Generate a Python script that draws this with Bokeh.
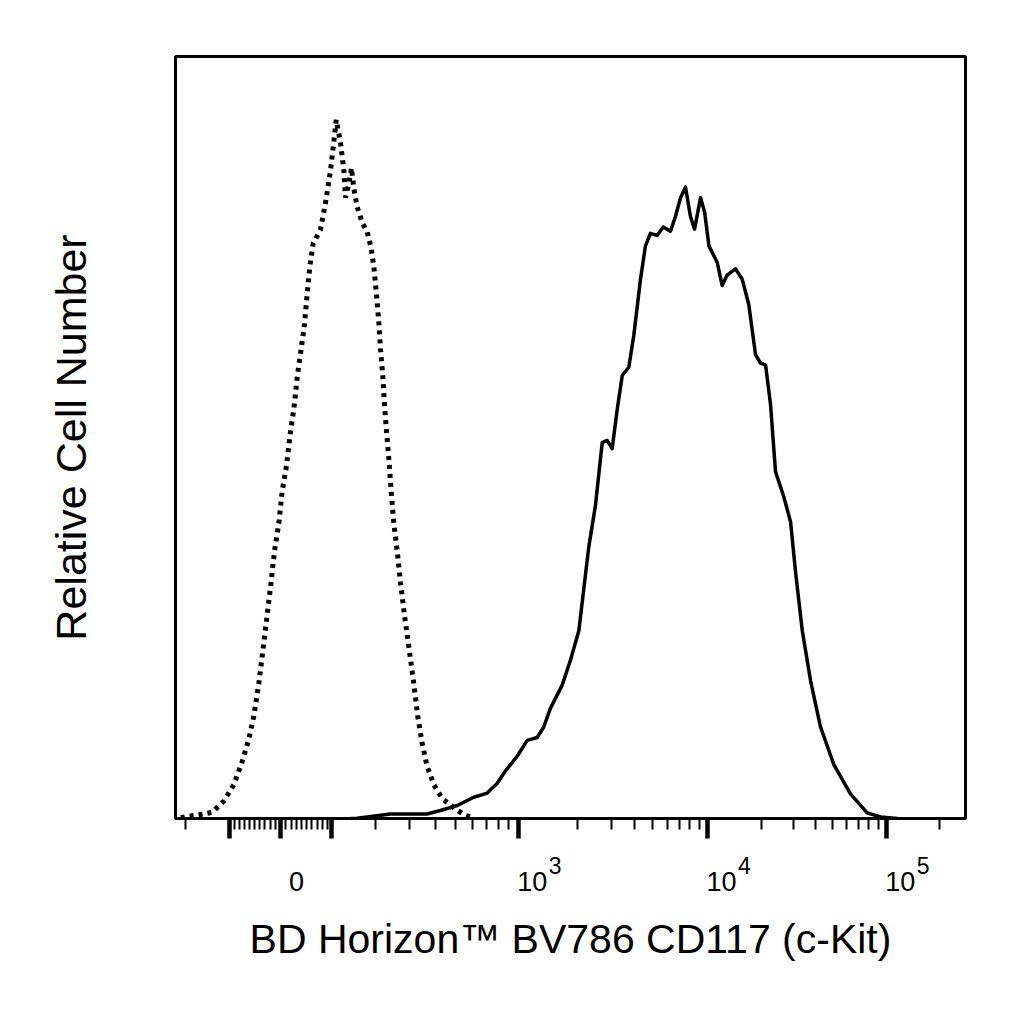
import math
from bokeh.plotting import figure
from bokeh.models import Range1d, FixedTicker, LinearAxis
from bokeh.embed import file_html
from bokeh.resources import INLINE

# ---------------- data (x in logicle display decades, y = relative count) -------------
isotype_x = [0.100, 0.136, 0.211, 0.277, 0.343, 0.399, 0.446, 0.484, 0.512, 0.540, 0.559,
             0.584, 0.606, 0.629, 0.653, 0.672, 0.696, 0.719, 0.738, 0.757, 0.779, 0.798,
             0.813, 0.828, 0.847, 0.888, 0.917, 0.945, 0.963, 0.977, 1.001, 1.020, 1.029,
             1.048, 1.063, 1.076, 1.095, 1.124, 1.152, 1.174, 1.189, 1.204, 1.217, 1.227,
             1.240, 1.249, 1.261, 1.274, 1.287, 1.302, 1.321, 1.340, 1.362, 1.387, 1.415,
             1.437, 1.462, 1.490, 1.528, 1.575, 1.641, 1.697, 1.753]
isotype_y = [0.10, 0.29, 0.57, 0.89, 2.51, 4.81, 8.09, 11.37, 14.64, 19.23, 23.16,
             28.40, 32.99, 38.23, 42.17, 46.76, 50.36, 55.27, 58.54, 63.14, 67.07, 70.67,
             74.93, 78.86, 82.14, 84.10, 88.04, 92.63, 96.56, 99.83, 96.56, 92.63, 88.69,
             90.66, 92.96, 90.00, 87.39, 85.09, 83.77, 81.49, 78.86, 74.93, 71.00, 67.07,
             63.14, 59.20, 55.27, 51.34, 46.76, 42.17, 38.23, 33.64, 29.06, 24.47, 19.23,
             14.64, 10.71, 7.43, 4.81, 2.86, 1.54, 0.56, 0.00]

stained_x = [1.060, 1.095, 1.283, 1.490, 1.565, 1.660, 1.753, 1.829, 1.885, 1.932, 1.998,
             2.055, 2.111, 2.148, 2.186, 2.252, 2.299, 2.346, 2.374, 2.402, 2.440, 2.478,
             2.506, 2.534, 2.563, 2.591, 2.628, 2.656, 2.694, 2.722, 2.750, 2.788, 2.822,
             2.863, 2.891, 2.920, 2.948, 2.976, 2.999, 3.033, 3.056, 3.080, 3.127, 3.155,
             3.183, 3.230, 3.268, 3.305, 3.343, 3.371, 3.400, 3.428, 3.456, 3.503, 3.541,
             3.569, 3.607, 3.654, 3.710, 3.785, 3.879, 3.973, 4.049, 4.143]
stained_y = [0.00, 0.04, 0.64, 0.64, 1.14, 1.86, 3.03, 3.63, 5.00, 6.80, 8.89,
             11.16, 11.57, 13.07, 15.77, 19.06, 22.64, 26.83, 32.80, 38.77, 44.76, 53.71,
             54.01, 52.83, 58.50, 63.29, 64.47, 69.00, 77.03, 81.81, 83.60, 83.30, 84.50,
             83.90, 86.00, 88.69, 90.19, 86.00, 84.20, 88.69, 86.60, 81.81, 79.43, 76.14,
             77.63, 78.53, 77.03, 73.44, 66.27, 65.07, 64.77, 59.10, 49.53, 45.94, 42.36,
             35.19, 26.83, 19.64, 13.07, 7.70, 3.51, 0.81, 0.21, 0.00]

major_tick_values = [-100, 0, 100, 1000, 10000, 100000]
minor_tick_values = ([-200] + [-v for v in range(10, 100, 10)] + list(range(10, 100, 10))
                     + list(range(200, 1000, 100)) + list(range(2000, 10000, 1000))
                     + list(range(20000, 100000, 10000)) + [200000])
label_values = [0, 1000, 10000, 100000]
label_bases = ["0", "10", "10", "10"]
label_exponents = ["", "3", "4", "5"]

x_title = "BD Horizon\u2122 BV786 CD117 (c-Kit)"
y_title = "Relative Cell Number"

# ---------------- logicle (biexponential) scale -------------
T_TOP, M_DEC, W_LIN = 262144.0, 4.5, 0.663


def _solve_p(w):
    lo, hi = 1.0 + 1e-9, 100.0
    for _ in range(200):
        mid = 0.5 * (lo + hi)
        if 2 * mid * math.log10(mid) / (mid + 1) < w:
            lo = mid
        else:
            hi = mid
    return 0.5 * (lo + hi)


P_LOG = _solve_p(W_LIN)


def logicle_S(x):
    if x < W_LIN:
        return -logicle_S(2 * W_LIN - x)
    y = x - W_LIN
    return T_TOP * 10 ** (-(M_DEC - W_LIN)) * (10 ** y - P_LOG ** 2 * 10 ** (-y / P_LOG) + P_LOG ** 2 - 1)


def logicle_pos(v):
    lo, hi = -2.0, 7.0
    for _ in range(200):
        mid = 0.5 * (lo + hi)
        if logicle_S(mid) < v:
            lo = mid
        else:
            hi = mid
    return round(0.5 * (lo + hi), 6)


FONT = "Liberation Sans"
X_START, X_END = 0.070, 4.528
FRAME_W, FRAME_H = 790, 762
PX = (X_END - X_START) / FRAME_W   # data units per screen pixel

p = figure(frame_width=FRAME_W, frame_height=FRAME_H,
           x_range=Range1d(X_START, X_END), y_range=Range1d(0, 108.86),
           x_axis_type=None, y_axis_type=None,
           output_backend="svg", toolbar_location=None,
           min_border_left=175, min_border_top=56, min_border_right=30, min_border_bottom=10)
p.background_fill_color = "white"
p.border_fill_color = "white"
p.outline_line_color = "black"
p.outline_line_width = 3
p.outline_line_alpha = 1.0


def bare_axis(ticks, overrides, font_size, standoff):
    ax = LinearAxis(ticker=FixedTicker(ticks=ticks, minor_ticks=[]))
    ax.axis_line_color = None
    ax.major_tick_out = 0
    ax.major_tick_in = 0
    ax.minor_tick_out = 0
    ax.minor_tick_in = 0
    ax.major_tick_line_color = None
    ax.minor_tick_line_color = None
    ax.major_label_overrides = overrides
    ax.major_label_text_font = FONT
    ax.major_label_text_font_size = font_size
    ax.major_label_text_color = "black"
    ax.major_label_standoff = standoff
    return ax


# axis 1: the logicle ticks (their labels are drawn by the axes below)
major_pos = [logicle_pos(v) for v in major_tick_values]
xaxis = LinearAxis(ticker=FixedTicker(ticks=major_pos,
                                      minor_ticks=[logicle_pos(v) for v in minor_tick_values]))
xaxis.axis_line_color = "black"
xaxis.axis_line_width = 3
xaxis.major_tick_out = 20
xaxis.major_tick_in = 0
xaxis.major_tick_line_width = 4.5
xaxis.major_tick_line_color = "black"
xaxis.minor_tick_out = 11
xaxis.minor_tick_in = 0
xaxis.minor_tick_line_width = 2
xaxis.minor_tick_line_color = "black"
xaxis.major_label_overrides = {t: "" for t in major_pos}
xaxis.major_label_text_font_size = "0px"
xaxis.major_label_standoff = 0
p.add_layout(xaxis, "below")

# axis 2: superscript exponents
exp_ticks, exp_over = [], {}
for val, expo in zip(label_values, label_exponents):
    if expo:
        t = round(logicle_pos(val) + 37 * PX, 6)
        exp_ticks.append(t)
        exp_over[t] = expo
p.add_layout(bare_axis(exp_ticks, exp_over, "23px", 18), "below")

# axis 3: bases "0" / "10" and the title
base_ticks, base_over = [], {}
for val, base in zip(label_values, label_bases):
    t = round(logicle_pos(val) + (16 if base == "0" else 14) * PX, 6)
    base_ticks.append(t)
    base_over[t] = base
base_axis = bare_axis(base_ticks, base_over, "27px", -5)
base_axis.axis_label = x_title
base_axis.axis_label_text_font = FONT
base_axis.axis_label_text_font_size = "41px"
base_axis.axis_label_text_font_style = "normal"
base_axis.axis_label_text_color = "black"
base_axis.axis_label_standoff = 22
p.add_layout(base_axis, "below")

yaxis = LinearAxis(ticker=FixedTicker(ticks=[]))
yaxis.axis_line_color = None
yaxis.major_tick_out = 0
yaxis.major_tick_in = 0
yaxis.minor_tick_out = 0
yaxis.minor_tick_in = 0
yaxis.major_label_text_font_size = "0px"
yaxis.major_label_standoff = 0
yaxis.axis_label = y_title
yaxis.axis_label_text_font = FONT
yaxis.axis_label_text_font_size = "43px"
yaxis.axis_label_text_font_style = "normal"
yaxis.axis_label_text_color = "black"
yaxis.axis_label_standoff = 81
p.add_layout(yaxis, "left")

# curves
p.line(isotype_x, isotype_y, line_color="black", line_width=5, line_dash="4 5")
p.line(stained_x, stained_y, line_color="black", line_width=3.5, line_join="round")

open("out.html", "w").write(file_html(p, INLINE))
